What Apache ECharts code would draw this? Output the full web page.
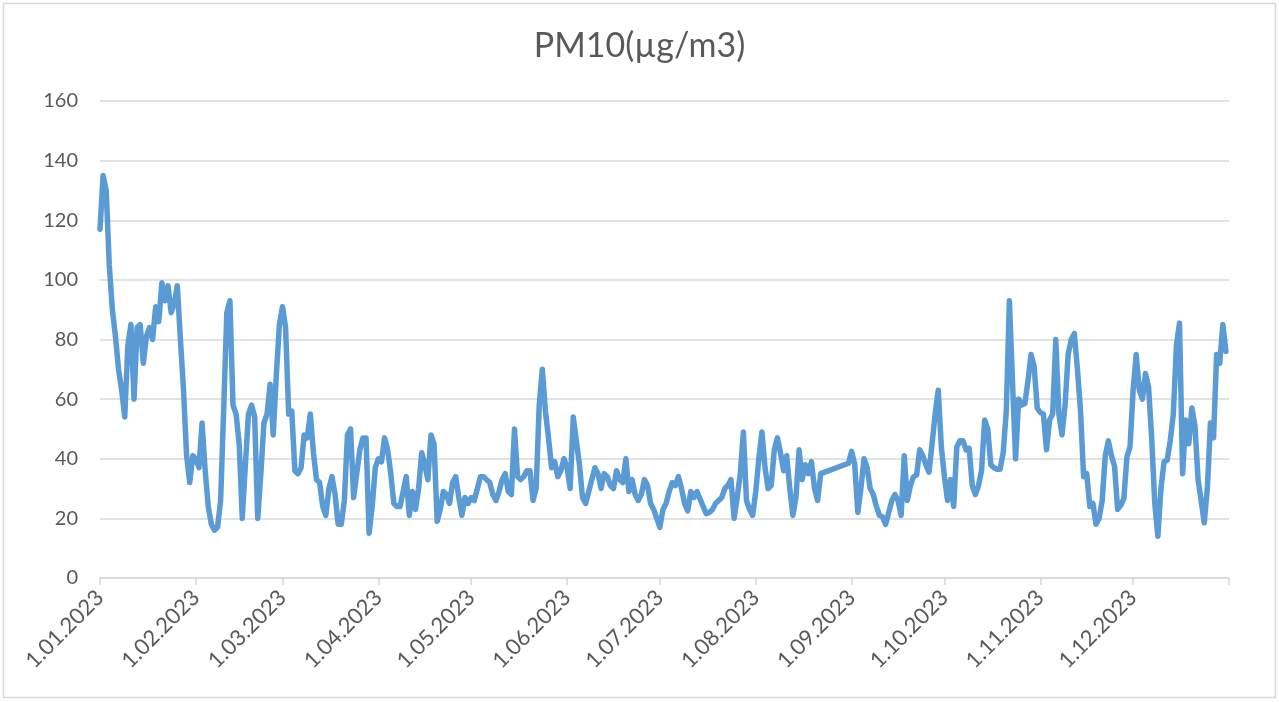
<!DOCTYPE html>
<html>
<head>
    <meta charset="UTF-8">
    <title>PM10</title>
    <script src="https://cdn.jsdelivr.net/npm/echarts@6.0.0/dist/echarts.min.js"></script>
</head>
<body style="margin:0;background:#fff;">
    <div id="main" style="width: 1279px;height:702px;"></div>
    <script type="text/javascript">
        // daily PM10 values, one array per month
        const jan = [117, 135, 130, 105, 90, 81, 70, 63, 54, 78, 85, 60, 84, 85, 72, 81, 84, 80, 91, 86, 99, 93, 98, 89, 92, 98, 80, 63, 41, 32, 41];
        const feb = [40, 37, 52, 36, 24, 18, 16, 17, 26, 57, 89, 93, 58, 55, 45, 20, 38, 55, 58, 54, 20, 35, 52, 55, 65, 48, 68, 85];
        const mar = [91, 84, 55, 56, 36, 35, 37, 48, 47, 55, 42, 33, 32, 24, 21, 30, 34, 28, 18, 18, 26, 48, 50, 27, 35, 43, 47, 47, 15, 24, 37];
        const apr = [40, 39, 47, 43, 35, 25, 24, 24, 29, 34, 21, 29, 23, 30, 42, 38, 33, 48, 45, 19, 23, 29, 28, 25, 32, 34, 27, 21, 27, 25];
        const may = [27, 26, 30, 34, 34, 33, 32, 28, 26, 29, 33, 35, 29, 28, 50, 34, 33, 34, 36, 36, 26, 30, 58, 70, 56, 47, 37, 39, 34, 36, 40];
        const jun = [37, 30, 54, 46, 38, 27, 25, 29, 33, 37, 35, 30, 35, 34, 31, 30, 36, 33, 32, 40, 29, 33, 28, 26, 28, 33, 31, 25, 23, 20];
        const jul = [17, 23, 25, 29, 32, 31, 34, 30, 25, 22.5, 29, 27, 29, 26.5, 24, 21.6, 22, 23, 25, 26, 27, 30, 31, 33, 20, 27, 35, 49, 26, 23, 21];
        // no measurements 23-30 Aug
        const aug = [29, 40, 49, 37, 30, 31, 43, 47, 42, 36, 41, 30, 21, 27, 43, 33, 38, 35, 39, 30, 26, 35, null, null, null, null, null, null, null, null, 38.5];
        const sep = [42.5, 38, 22, 30, 40, 37, 30, 28, 24, 21, 20.5, 18, 22, 26, 28, 26, 21, 41, 26, 31, 34, 34.5, 43, 41, 38, 35.5, 45, 55, 63, 44];
        const oct = [34, 26, 33, 24, 44, 46, 46, 43, 43.5, 31, 28, 31, 36, 53, 50, 38, 37, 36.5, 36.5, 42, 56, 93, 66, 40, 60, 58, 58.5, 66, 75, 71, 57];
        const nov = [55.5, 55, 43, 53, 55, 80, 55, 48, 58, 75, 80, 82, 70, 56, 34, 35, 24, 25, 18, 20, 26, 41, 46, 41, 37.5, 23, 24.4, 26.6, 40.6, 44];
        const dec = [63, 75, 63, 60, 68.6, 64, 47, 25, 14, 30, 39, 39.5, 46, 55, 78, 85.5, 35, 53, 45, 57, 51, 33, 26, 18.5, 30, 52, 47, 75, 72, 85, 76];

        const yTicks = { min: 0, max: 160, step: 20 };

        const monthDays = [31, 28, 31, 30, 31, 30, 31, 31, 30, 31, 30, 31];
        const dates = [];
        monthDays.forEach(function (n, m) {
            for (let d = 1; d <= n; d++) {
                dates.push(d + '.' + String(m + 1).padStart(2, '0') + '.2023');
            }
        });
        // end of the date axis (tick only)
        dates.push('1.01.2024');

        const pm10 = [].concat(jan, feb, mar, apr, may, jun, jul, aug, sep, oct, nov, dec, [null]);

        const isMonthStart = function (i, v) { return v.indexOf('1.') === 0; };

        var myChart = echarts.init(document.getElementById('main'));
        var option = {
            animation: false,
            backgroundColor: '#fff',
            textStyle: { fontFamily: 'Lato' },
            title: {
                text: 'PM10(µg/m3)',
                left: 'center',
                top: 24,
                textStyle: { fontFamily: 'Lato', fontSize: 34, fontWeight: 'normal', color: '#595959' }
            },
            graphic: [{
                type: 'rect',
                shape: { x: 3.5, y: 3.5, width: 1272, height: 694 },
                style: { fill: 'none', stroke: '#d9d9d9', lineWidth: 1.5 },
                silent: true
            }],
            grid: { left: 100, right: 50, top: 101, bottom: 124 },
            xAxis: {
                type: 'category',
                boundaryGap: false,
                data: dates,
                axisLine: { lineStyle: { color: '#d9d9d9', width: 1.5 } },
                axisTick: { show: true, interval: isMonthStart, length: 7, lineStyle: { color: '#d9d9d9', width: 1.5 } },
                axisLabel: {
                    interval: function (i, v) { return i < 365 && isMonthStart(i, v); },
                    rotate: 45,
                    margin: 16,
                    fontSize: 22,
                    color: '#595959',
                    fontFamily: 'Lato'
                },
                splitLine: { show: false }
            },
            yAxis: {
                type: 'value',
                min: yTicks.min,
                max: yTicks.max,
                interval: yTicks.step,
                axisLine: { show: false },
                axisTick: { show: false },
                axisLabel: { fontSize: 20, color: '#595959', margin: 22, fontFamily: 'Lato' },
                splitLine: { lineStyle: { color: '#d9d9d9', width: 1.5 } }
            },
            series: [{
                name: 'PM10',
                type: 'line',
                data: pm10,
                connectNulls: true,
                showSymbol: false,
                symbol: 'none',
                lineStyle: { color: '#5b9bd5', width: 5.5, cap: 'round', join: 'round' },
                itemStyle: { color: '#5b9bd5' }
            }]
        };
        myChart.setOption(option);
    </script>
</body>
</html>
